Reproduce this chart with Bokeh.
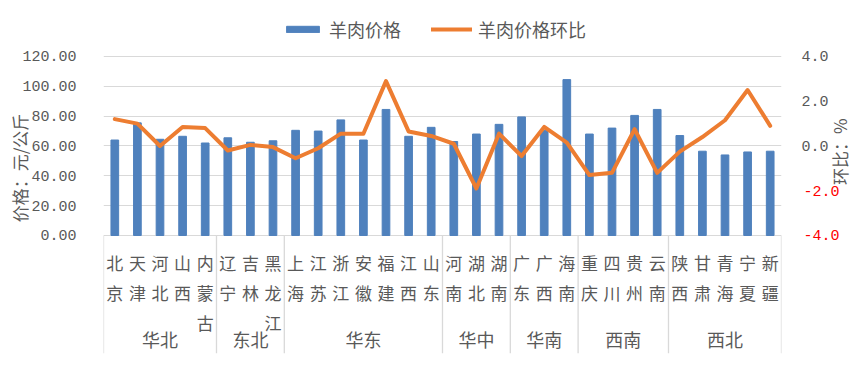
import math
from bokeh.plotting import figure
from bokeh.models import (ColumnDataSource, FactorRange, Range1d, LinearAxis, FixedTicker,
                          PrintfTickFormatter, Legend, LegendItem)
from bokeh.core.properties import value
from bokeh.embed import file_html
from bokeh.resources import INLINE

# ---------------- data ----------------
provinces = ["北京", "天津", "河北", "山西", "内蒙古",
             "辽宁", "吉林", "黑龙江",
             "上海", "江苏", "浙江", "安徽", "福建", "江西", "山东",
             "河南", "湖北", "湖南",
             "广东", "广西", "海南",
             "重庆", "四川", "贵州", "云南",
             "陕西", "甘肃", "青海", "宁夏", "新疆"]
regions = ["华北"] * 5 + ["东北"] * 3 + ["华东"] * 7 + ["华中"] * 3 + ["华南"] * 3 + ["西南"] * 4 + ["西北"] * 5
prices = [64.0, 75.5, 64.5, 66.5, 62.0,
          65.5, 62.5, 63.5,
          70.5, 70.0, 77.5, 64.0, 84.5, 66.5, 72.5,
          63.0, 68.0, 74.5,
          79.5, 70.5, 104.5,
          68.0, 72.0, 80.5, 84.5,
          67.0, 56.5, 54.0, 56.0, 56.5]
ratios = [1.2, 1.0, 0.0, 0.85, 0.8,
          -0.2, 0.05, -0.05,
          -0.55, -0.1, 0.55, 0.55, 2.9, 0.65, 0.45,
          0.1, -1.9, 0.55,
          -0.45, 0.85, 0.15,
          -1.3, -1.2, 0.75, -1.2,
          -0.25, 0.4, 1.15, 2.5, 0.9]
left_ticks = [0, 20, 40, 60, 80, 100, 120]
right_ticks_pos = [0, 2, 4]
right_ticks_neg = [-2, -4]
series_names = ["羊肉价格", "羊肉价格环比"]
left_title = "价格：元/公斤"
right_title = "环比：%"

# ---------------- styles ----------------
BLUE = "#4F81BD"
ORANGE = "#ED7D31"
GRID = "#D9D9D9"
TXT = "#595959"
CJK = "Noto Sans CJK SC"
NUM = "Liberation Mono"

Y0, Y1 = -79.1, 146.8
R0, R1 = (Y0 - 60) / 15.0, (Y1 - 60) / 15.0

p = figure(width=867, height=379, x_range=FactorRange(factors=provinces, range_padding=0),
           y_range=Range1d(Y0, Y1), output_backend="svg", toolbar_location=None,
           min_border_left=103, min_border_right=84, min_border_top=16, min_border_bottom=26)
p.extra_y_ranges = {"right": Range1d(R0, R1)}
p.outline_line_color = None
p.xaxis.visible = False
p.xgrid.visible = False


def style_axis(ax, color, standoff):
    ax.axis_line_color = None
    ax.major_tick_line_color = None
    ax.minor_tick_line_color = None
    ax.major_label_standoff = standoff
    ax.major_label_text_font = NUM
    ax.major_label_text_font_size = "15px"
    ax.major_label_text_color = color


def style_title(ax, text, standoff):
    ax.axis_label = text
    ax.axis_label_standoff = standoff
    ax.axis_label_text_font = CJK
    ax.axis_label_text_font_size = "17px"
    ax.axis_label_text_font_style = "normal"
    ax.axis_label_text_color = TXT


# left axis; two ideographic spaces at the start lift the title to where the reference has it
ya = p.yaxis[0]
ya.ticker = FixedTicker(ticks=left_ticks)
ya.formatter = PrintfTickFormatter(format="%.2f")
style_axis(ya, TXT, 21)
style_title(ya, "\u3000\u3000" + left_title, -13)
p.ygrid.grid_line_color = GRID
p.ygrid.grid_line_width = 1.2

# right axis with black positive labels and the axis title
ra = LinearAxis(y_range_name="right", ticker=FixedTicker(ticks=right_ticks_pos),
                formatter=PrintfTickFormatter(format="%.1f"))
style_axis(ra, TXT, 14)
style_title(ra, right_title, 8)
ra.axis_label_orientation = math.pi / 2
p.add_layout(ra, "right")

# red negative labels, pulled back into the same column as the black ones
rb = LinearAxis(y_range_name="right", ticker=FixedTicker(ticks=right_ticks_neg),
                formatter=PrintfTickFormatter(format="%.1f"))
style_axis(rb, "#FF0000", -70)
p.add_layout(rb, "right")

src = ColumnDataSource(dict(prov=provinces, price=prices, ratio=ratios,
                            label=["\n".join(list(s)) for s in provinces]))

bars = p.vbar(x="prov", top="price", width=0.34, source=src, color=BLUE)
line = p.line(x="prov", y="ratio", source=src, y_range_name="right", line_color=ORANGE,
              line_width=4, line_join="round", line_cap="round")

# category labels
p.text(x="prov", y=-9.4, text="label", source=src, text_align="center", text_baseline="top",
       text_font=value(CJK), text_font_size="17px", text_color=TXT, text_line_height=1.2)

# group separators and region labels
groups = []
for i, r in enumerate(regions):
    if i == 0 or regions[i - 1] != r:
        groups.append([r, provinces[i], 0])
    groups[-1][2] += 1
sep_x = [(g[1], -0.5) for g in groups] + [(provinces[-1], 0.5)]
p.segment(x0=sep_x, x1=sep_x, y0=[0] * len(sep_x), y1=[Y0] * len(sep_x),
          line_color=GRID, line_width=1.3)
reg_src = ColumnDataSource(dict(x=[(g[1], g[2] / 2.0 - 0.5) for g in groups],
                                name=[g[0] for g in groups]))
p.text(x="x", y=-69.7, text="name", source=reg_src, text_align="center", text_baseline="middle",
       text_font=value(CJK), text_font_size="18px", text_color=TXT)

legend = Legend(items=[LegendItem(label=series_names[0], renderers=[bars]),
                       LegendItem(label=series_names[1], renderers=[line])],
                orientation="horizontal", location=(179, 311),
                glyph_width=41, glyph_height=8, label_standoff=6, spacing=30,
                padding=0, margin=0, border_line_color=None, background_fill_alpha=0,
                label_text_font=CJK, label_text_font_size="18px", label_text_color=TXT)
p.add_layout(legend, "center")

open("out.html", "w").write(file_html(p, INLINE))
